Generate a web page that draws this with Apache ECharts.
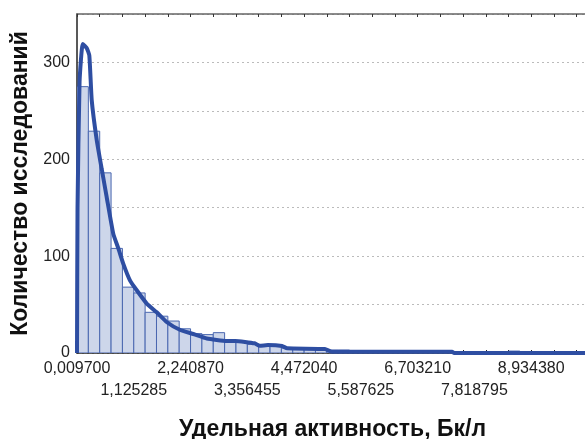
<!DOCTYPE html>
<html>
<head>
<meta charset="utf-8">
<script src="https://cdn.jsdelivr.net/npm/echarts@6/dist/echarts.min.js"></script>
<style>
html,body{margin:0;padding:0;background:#fff;}
#chart{width:585px;height:439px;}
</style>
</head>
<body>
<div id="chart"></div>
<script>
// ---- data ----
const xMin = 0.0097;
const binWidth = 0.223117;
const binCounts = [275,229,186,108,68,62,42,38,33,25,20,19,21,12,12,9,8,7,5,5,4,4,3,3,2,2,2,1,1,2,1,1,1,1,0,0,0,0,2,1,0,0,0,0,1];
const xTickLabels = ['0,009700','1,125285','2,240870','3,356455','4,472040','5,587625','6,703210','7,818795','8,934380'];
const xLabelValues = [0.009700,1.125285,2.240870,3.356455,4.472040,5.587625,6.703210,7.818795,8.934380];
const yLabelValues = [0,100,200,300];
const curveX = [0.0097,0.02,0.06,0.122,0.2,0.252,0.299,0.397,0.495,0.593,0.723,0.822,0.92,1.05,1.18,1.38,1.576,1.77,2.03,2.296,2.56,2.95,3.12,3.5,3.6,3.76,4.04,4.14,4.88,5.02,7.38,7.42,10.05];
const curveY = [0,150,280,319,315,307,261,220,190,161,123,108,92,75,65,51,42,32,24,19.6,15,12.5,12.5,10,7.5,8.2,7.2,4.8,4.1,1.3,1.3,0,0];
const xTitle = 'Удельная активность, Бк/л';
const yTitle = 'Количество исследований';

// ---- derived ----
const nBins = binCounts.length;
const xMax = xMin + nBins * binWidth;
const barData = binCounts.map((c, i) => [xMin + i * binWidth, xMin + (i + 1) * binWidth, c]);
const tickValues = [];
for (let i = 0; i <= nBins; i += 2) tickValues.push(xMin + i * binWidth);
const curveData = curveX.map((x, i) => [x, curveY[i]]);
const evenVals = xLabelValues.filter((v, i) => i % 2 === 0);
const oddVals = xLabelValues.filter((v, i) => i % 2 === 1);
function labelFor(v) {
  let idx = 0, best = 1e9;
  xLabelValues.forEach((lv, i) => { const d = Math.abs(lv - v); if (d < best) { best = d; idx = i; } });
  return xTickLabels[idx];
}

const font = 'Liberation Sans, Arial, sans-serif';
const labelStyle = { fontFamily: font, fontSize: 16, color: '#222' };
const chart = echarts.init(document.getElementById('chart'));
chart.setOption({
  animation: false,
  backgroundColor: '#fff',
  grid: { left: 77, top: 14, width: 511, height: 339, containLabel: false, outerBoundsMode: 'none' },
  xAxis: [
    {
      type: 'value', min: xMin, max: xMax, position: 'bottom',
      axisLine: { show: true, onZero: false, lineStyle: { color: '#222', width: 1.5 } },
      axisTick: { show: true, inside: true, length: 3, customValues: tickValues, lineStyle: { color: '#222' } },
      axisLabel: Object.assign({
        show: true, customValues: evenVals, margin: 8, hideOverlap: false,
        showMinLabel: true, showMaxLabel: true, formatter: labelFor
      }, labelStyle),
      splitLine: { show: false },
      name: xTitle, nameLocation: 'middle', nameGap: 65,
      nameTextStyle: { fontFamily: font, fontSize: 23, fontWeight: 'bold', color: '#111' }
    },
    {
      type: 'value', min: xMin, max: xMax, position: 'top',
      axisLine: { show: true, onZero: false, lineStyle: { color: '#666', width: 1.5 } },
      axisTick: { show: true, inside: true, length: 3, customValues: tickValues, lineStyle: { color: '#333' } },
      axisLabel: { show: false },
      splitLine: { show: false }
    },
    {
      type: 'value', min: xMin, max: xMax, position: 'bottom', offset: 22,
      axisLine: { show: false, onZero: false },
      axisTick: { show: false },
      axisLabel: Object.assign({
        show: true, customValues: oddVals, margin: 8, hideOverlap: false,
        showMinLabel: true, showMaxLabel: true, formatter: labelFor
      }, labelStyle),
      splitLine: { show: false }
    }
  ],
  yAxis: {
    type: 'value', min: 0, max: 350, interval: 50,
    axisLine: { show: true, lineStyle: { color: '#222', width: 1.5 } },
    axisTick: { show: false },
    axisLabel: Object.assign({ customValues: yLabelValues, margin: 7 }, labelStyle),
    splitLine: { show: true, lineStyle: { color: '#bbb', type: [2, 3], width: 1 } },
    name: yTitle, nameLocation: 'middle', nameGap: 34, nameRotate: 90,
    nameTextStyle: { fontFamily: font, fontSize: 23, fontWeight: 'bold', color: '#111' }
  },
  series: [
    {
      type: 'custom',
      xAxisIndex: 0,
      data: barData,
      clip: true,
      renderItem: function (params, api) {
        const p0 = api.coord([api.value(0), api.value(2)]);
        const p1 = api.coord([api.value(1), 0]);
        return {
          type: 'rect',
          shape: { x: p0[0], y: p0[1], width: p1[0] - p0[0], height: p1[1] - p0[1] },
          style: { fill: '#cdd6ea', stroke: '#4a67b0', lineWidth: 1 }
        };
      },
      encode: { x: [0, 1], y: 2 },
      z: 2
    },
    {
      type: 'line',
      xAxisIndex: 0,
      data: curveData,
      showSymbol: false,
      smooth: 0.15,
      clip: true,
      lineStyle: { color: '#2e4ea2', width: 4 },
      z: 3
    }
  ]
});
</script>
</body>
</html>
